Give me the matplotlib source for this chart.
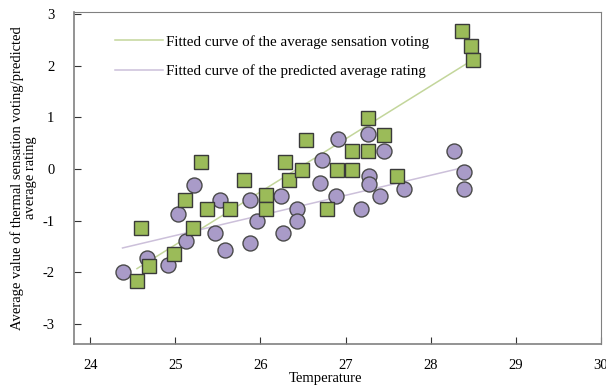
import matplotlib
matplotlib.use("Agg")
import matplotlib.pyplot as plt
import numpy as np

plt.rcParams["font.family"] = ["Liberation Serif", "DejaVu Serif"]
plt.rcParams["axes.unicode_minus"] = False

# average sensation voting (squares)
vote_t = [24.55, 24.69, 24.99, 24.60, 25.21, 25.11, 25.37, 25.64, 25.30, 25.81,
          26.06, 26.06, 26.29, 26.34, 26.49, 26.53, 26.78, 26.90, 27.07, 27.07,
          27.26, 27.26, 27.45, 27.60, 28.37, 28.47, 28.50]
vote_v = [-2.17, -1.88, -1.65, -1.14, -1.14, -0.61, -0.77, -0.77, 0.13, -0.21,
          -0.50, -0.77, 0.13, -0.21, -0.02, 0.57, -0.77, -0.02, -0.02, 0.34,
          0.34, 0.98, 0.66, -0.13, 2.67, 2.39, 2.12]

# predicted average rating (circles)
pred_t = [24.38, 24.67, 24.91, 25.03, 25.13, 25.22, 25.47, 25.52, 25.58, 25.88,
          25.88, 25.96, 26.24, 26.26, 26.43, 26.43, 26.70, 26.72, 26.89, 26.91,
          27.18, 27.26, 27.28, 27.28, 27.40, 27.45, 27.69, 28.27, 28.39, 28.39]
pred_v = [-2.00, -1.72, -1.86, -0.88, -1.39, -0.31, -1.24, -0.60, -1.56, -1.44,
          -0.60, -1.01, -0.53, -1.24, -0.77, -1.01, -0.28, 0.18, -0.53, 0.58,
          -0.77, 0.67, -0.13, -0.29, -0.53, 0.34, -0.38, 0.34, -0.06, -0.38]

# fitted line values at the ends of each data range
vote_fit_ends = [-1.93, 2.12]
pred_fit_ends = [-1.53, 0.03]

fig = plt.figure(figsize=(6.06, 3.90), dpi=100)
ax = fig.add_axes([74 / 606, 46 / 390, 527 / 606, 332 / 390])

fx = [min(vote_t), max(vote_t)]
ax.plot(fx, vote_fit_ends, color="#c3d69b", lw=1.1,
        label="Fitted curve of the average sensation voting", zorder=2)
px = [min(pred_t), max(pred_t)]
ax.plot(px, pred_fit_ends, color="#ccc0da", lw=1.1,
        label="Fitted curve of the predicted average rating", zorder=2)

ax.plot(pred_t, pred_v, "o", ms=10.8, mfc="#a99bc8", mec="#4a4a4a", mew=1.0,
        ls="none", zorder=3)
ax.plot(vote_t, vote_v, "s", ms=9.8, mfc="#9bbb59", mec="#3a3a3a", mew=1.0,
        ls="none", zorder=4)

ax.set_xlim(23.81, 30)
ax.set_ylim(-3.39, 3.04)
ax.set_xticks([24, 25, 26, 27, 28, 29, 30])
ax.set_yticks([-3, -2, -1, 0, 1, 2, 3])
ax.tick_params(axis="both", direction="in", length=5, width=0.8,
               labelsize=10.5, color="#333333")
ax.tick_params(axis="x", pad=11)
ax.tick_params(axis="y", pad=14)
for s in ["top", "right"]:
    ax.spines[s].set_color("#808080")
for s in ["left", "bottom"]:
    ax.spines[s].set_color("#808080")
    ax.spines[s].set_linewidth(1.2)

ax.set_xlabel("Temperature", fontsize=10.5, labelpad=1)
ax.xaxis.set_label_coords(0.478, -0.085)
ax.set_ylabel("Average value of thermal sensation voting/predicted\naverage rating",
              fontsize=10.5, labelpad=4, linespacing=0.95)

ax.legend(loc="upper left", bbox_to_anchor=(0.078, 0.931), frameon=False,
          borderaxespad=0, borderpad=0, fontsize=10.8, handlelength=3.2,
          handletextpad=0.2, labelspacing=1.05)

fig.savefig("out.png", dpi=100)
